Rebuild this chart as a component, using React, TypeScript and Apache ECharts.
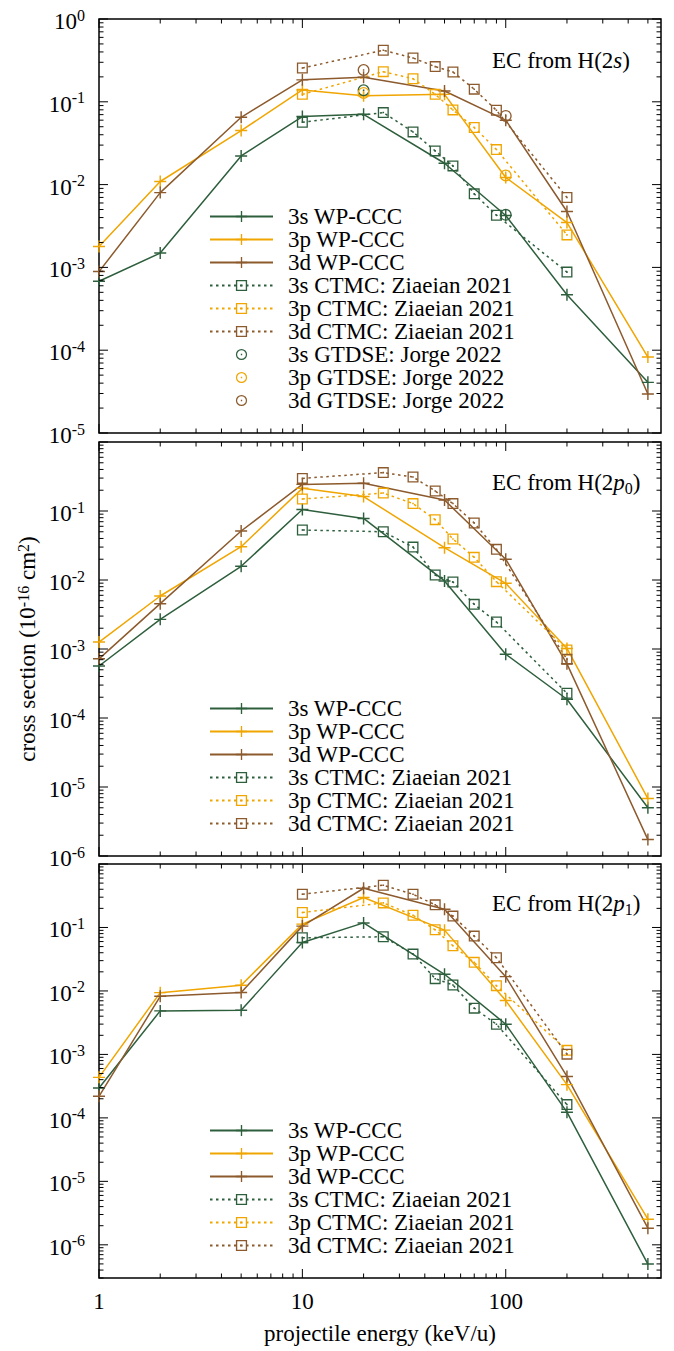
import React, { useEffect, useRef } from 'react';
import * as echarts from 'echarts';

const FONT = '"Liberation Serif", "Times New Roman", serif';
const GREEN = '#2e5f3d';
const ORANGE = '#f0a500';
const BROWN = '#8c5a2d';

// energies (keV/u)
const E_WP = [1, 2, 5, 10, 20, 50, 100, 200, 500];
const E_CTMC = [10, 25, 35, 45, 55, 70, 90, 200];
const E_GTDSE = [20, 100];

// Panel 1: EC from H(2s)
const P1_WP_3s = [6.8e-4, 1.49e-3, 0.0222, 0.0663, 0.0707, 0.0181, 4.23e-3, 4.67e-4, 4.09e-5];
const P1_WP_3p = [1.79e-3, 0.0109, 0.0449, 0.139, 0.118, 0.123, 0.0122, 3.48e-3, 8.26e-5];
const P1_WP_3d = [8.9e-4, 8.0e-3, 0.065, 0.184, 0.198, 0.135, 0.06, 4.73e-3, 2.96e-5];
const P1_CT_3s = [0.0566, 0.0741, 0.0433, 0.0255, 0.0168, 7.73e-3, 4.27e-3, 8.77e-4];
const P1_CT_3p = [0.123, 0.231, 0.19, 0.123, 0.0798, 0.0489, 0.0265, 2.47e-3];
const P1_CT_3d = [0.256, 0.419, 0.338, 0.266, 0.229, 0.142, 0.079, 6.98e-3];
const P1_GT_3s = [0.138, 4.31e-3];
const P1_GT_3p = [0.128, 0.0129];
const P1_GT_3d = [0.242, 0.0675];

// Panel 2: EC from H(2p0)
const P2_WP_3s = [5.67e-4, 2.69e-3, 0.0158, 0.105, 0.078, 9.7e-3, 8.4e-4, 1.87e-4, 5.0e-6];
const P2_WP_3p = [1.26e-3, 5.86e-3, 0.0304, 0.213, 0.162, 0.0294, 8.95e-3, 1.02e-3, 6.8e-6];
const P2_WP_3d = [7.2e-4, 4.54e-3, 0.0513, 0.243, 0.252, 0.144, 0.02, 6.1e-4, 1.73e-6];
const P2_CT_3s = [0.053, 0.05, 0.03, 0.0118, 9.35e-3, 4.44e-3, 2.46e-3, 2.28e-4];
const P2_CT_3p = [0.149, 0.182, 0.128, 0.0749, 0.0393, 0.0213, 9.46e-3, 9.7e-4];
const P2_CT_3d = [0.297, 0.36, 0.311, 0.195, 0.128, 0.067, 0.0278, 7.08e-4];

// Panel 3: EC from H(2p1)
const P3_WP_3s = [2.96e-4, 4.85e-3, 4.97e-3, 0.058, 0.118, 0.0183, 2.99e-3, 1.23e-4, 4.97e-7];
const P3_WP_3p = [4.35e-4, 9.4e-3, 0.0123, 0.113, 0.296, 0.0908, 7.05e-3, 3.34e-4, 2.53e-6];
const P3_WP_3d = [2.19e-4, 8.24e-3, 9.42e-3, 0.105, 0.415, 0.194, 0.0168, 4.5e-4, 1.83e-6];
const P3_CT_3s = [0.0689, 0.0713, 0.0381, 0.0156, 0.0124, 5.35e-3, 2.99e-3, 1.62e-4];
const P3_CT_3p = [0.172, 0.244, 0.156, 0.0919, 0.0515, 0.0282, 0.0121, 1.16e-3];
const P3_CT_3d = [0.334, 0.463, 0.334, 0.227, 0.151, 0.0731, 0.0334, 1.01e-3];

// axis ranges
const X_MIN = 1;
const X_MAX = 580;
const Y_MIN = [1e-5, 1e-6, 3e-7];
const Y_MAX = [1, 1, 1];

const NAMES_WP = ['3s WP-CCC', '3p WP-CCC', '3d WP-CCC'];
const NAMES_CT = ['3s CTMC: Ziaeian 2021', '3p CTMC: Ziaeian 2021', '3d CTMC: Ziaeian 2021'];
const NAMES_GT = ['3s GTDSE: Jorge 2022', '3p GTDSE: Jorge 2022', '3d GTDSE: Jorge 2022'];
const TITLES = ['EC from H(2{i|s})', 'EC from H(2{i|p}{sub|0})', 'EC from H(2{i|p}{sub|1})'];

// layout
const GRID_TOP = [19, 442, 864];
const GRID_H = 414;
const GRID_LEFT = 99;
const GRID_W = 562;
const LEGEND_TOP = [205, 697, 1119];
const TITLE_Y = [62, 484, 905];

const FS = 23;
const FS_SUP = 16;

const SYM_PLUS = 'path://M0,4.4H10V5.6H0Z M4.4,0H5.6V10H4.4Z';
const SYM_BOX = 'path://M0,0H10V10H0Z M1.2,1.2V8.8H8.8V1.2Z M4.3,4.3H5.7V5.7H4.3Z';
const SYM_CIRC = 'path://M0,5A5,5,0,1,1,10,5A5,5,0,1,1,0,5Z M1.1,5A3.9,3.9,0,1,0,8.9,5A3.9,3.9,0,1,0,1.1,5Z M4.4,4.4H5.6V5.6H4.4Z';

const COLORS = [GREEN, ORANGE, BROWN];

function pairs(xs: number[], ys: number[]) {
  return xs.map((x, i) => [x, ys[i]]);
}

function makeSeries(p: number, name: string, xs: number[], ys: number[], color: string, kind: 'wp' | 'ct' | 'gt') {
  const base: any = {
    type: 'line',
    name,
    xAxisIndex: p,
    yAxisIndex: p,
    data: pairs(xs, ys),
    showSymbol: true,
    showAllSymbol: true,
    symbolKeepAspect: true,
    itemStyle: { color, borderWidth: 0 },
    emphasis: { disabled: true },
    z: 3,
  };
  if (kind === 'wp') {
    base.symbol = SYM_PLUS;
    base.symbolSize = 12;
    base.lineStyle = { color, width: 1.5, type: 'solid' };
  } else if (kind === 'ct') {
    base.symbol = SYM_BOX;
    base.symbolSize = 11;
    base.lineStyle = { color, width: 1.5, type: [2.5, 3.5] };
  } else {
    base.symbol = SYM_CIRC;
    base.symbolSize = 12;
    base.lineStyle = { color, width: 0, opacity: 0 };
    base.z = 4;
  }
  return base;
}

function tickData(p: number) {
  const d: number[][] = [];
  for (let k = 0; k <= 3; k++) {
    for (let m = 1; m <= 9; m++) {
      const v = m * Math.pow(10, k);
      if (v >= X_MIN && v <= X_MAX) d.push([v, 1, 0, m === 1 ? 1 : 0]);
    }
  }
  const lo = Math.floor(Math.log10(Y_MIN[p]));
  for (let k = lo; k <= 0; k++) {
    for (let m = 1; m <= 9; m++) {
      const v = m * Math.pow(10, k);
      if (v >= Y_MIN[p] * 0.9999 && v <= Y_MAX[p] * 1.0001) d.push([1, v, 1, m === 1 ? 1 : 0]);
    }
  }
  return d;
}

function isPow10(v: number) {
  const e = Math.log10(v);
  return Math.abs(e - Math.round(e)) < 1e-6;
}

export default function App() {
  const ref = useRef<HTMLDivElement>(null);
  useEffect(() => {
    if (!ref.current) return;
    const chart = echarts.init(ref.current, undefined, { renderer: 'svg' });

    const series: any[] = [];
    const panels = [
      { wp: [P1_WP_3s, P1_WP_3p, P1_WP_3d], ct: [P1_CT_3s, P1_CT_3p, P1_CT_3d], gt: [P1_GT_3s, P1_GT_3p, P1_GT_3d] },
      { wp: [P2_WP_3s, P2_WP_3p, P2_WP_3d], ct: [P2_CT_3s, P2_CT_3p, P2_CT_3d], gt: null },
      { wp: [P3_WP_3s, P3_WP_3p, P3_WP_3d], ct: [P3_CT_3s, P3_CT_3p, P3_CT_3d], gt: null },
    ];
    panels.forEach((pd, p) => {
      series.push({
        type: 'custom',
        name: 'ticks' + p,
        xAxisIndex: p,
        yAxisIndex: p,
        silent: true,
        z: 5,
        data: tickData(p),
        renderItem: (params: any, api: any) => {
          const cs = params.coordSys;
          const kind = api.value(2);
          const major = api.value(3);
          const len = major ? 9 : 4.5;
          const style = { stroke: '#000', lineWidth: 1 };
          if (kind === 0) {
            const x = api.coord([api.value(0), api.value(1)])[0];
            return {
              type: 'group',
              children: [
                { type: 'line', shape: { x1: x, y1: cs.y + cs.height, x2: x, y2: cs.y + cs.height - len }, style },
                { type: 'line', shape: { x1: x, y1: cs.y, x2: x, y2: cs.y + len }, style },
              ],
            };
          }
          const y = api.coord([api.value(0), api.value(1)])[1];
          return {
            type: 'group',
            children: [
              { type: 'line', shape: { x1: cs.x, y1: y, x2: cs.x + len, y2: y }, style },
              { type: 'line', shape: { x1: cs.x + cs.width, y1: y, x2: cs.x + cs.width - len, y2: y }, style },
            ],
          };
        },
      });
      pd.wp.forEach((ys, i) => series.push(makeSeries(p, NAMES_WP[i], E_WP, ys, COLORS[i], 'wp')));
      pd.ct.forEach((ys, i) => series.push(makeSeries(p, NAMES_CT[i], E_CTMC, ys, COLORS[i], 'ct')));
      if (pd.gt) pd.gt.forEach((ys, i) => series.push(makeSeries(p, NAMES_GT[i], E_GTDSE, ys, COLORS[i], 'gt')));
    });

    const grids = [0, 1, 2].map((p) => ({
      left: GRID_LEFT,
      top: GRID_TOP[p],
      width: GRID_W,
      height: GRID_H,
      show: true,
      borderColor: '#000',
      borderWidth: 1.5,
      backgroundColor: 'transparent',
    }));

    const xAxes = [0, 1, 2].map((p) => ({
      type: 'log',
      logBase: 10,
      gridIndex: p,
      min: X_MIN,
      max: X_MAX,
      axisLine: { show: false },
      axisTick: { show: false },
      splitLine: { show: false },
      minorTick: { show: false },
      axisLabel: {
        show: p === 2,
        margin: 12,
        fontFamily: FONT,
        fontSize: FS,
        color: '#000',
        showMaxLabel: false,
        formatter: (v: number) => (isPow10(v) ? String(Math.round(v)) : ''),
      },
      name: p === 2 ? 'projectile energy (keV/u)' : '',
      nameLocation: 'middle',
      nameGap: 44,
      nameTextStyle: { fontFamily: FONT, fontSize: FS, color: '#000' },
    }));

    const yAxes = [0, 1, 2].map((p) => ({
      type: 'log',
      logBase: 10,
      gridIndex: p,
      min: Y_MIN[p],
      max: Y_MAX[p],
      axisLine: { show: false },
      axisTick: { show: false },
      splitLine: { show: false },
      minorTick: { show: false },
      axisLabel: {
        margin: 14,
        color: '#000',
        padding: [5, 0, 0, 0],
        formatter: (v: number) => {
          if (!isPow10(v)) return '';
          const e = Math.round(Math.log10(v));
          if (p > 0 && e === 0) return '';
          return `{b|10}{s|${e}}`;
        },
        rich: {
          b: { fontFamily: FONT, fontSize: FS, lineHeight: 29, color: '#000' },
          s: { fontFamily: FONT, fontSize: FS_SUP, lineHeight: 16, verticalAlign: 'top', color: '#000' },
        },
      },
    }));

    const legends = [0, 1, 2].map((p) => ({
      data: p === 0 ? [...NAMES_WP, ...NAMES_CT, ...NAMES_GT] : [...NAMES_WP, ...NAMES_CT],
      orient: 'vertical',
      left: 209,
      top: LEGEND_TOP[p],
      itemWidth: 63,
      itemHeight: 14,
      itemGap: 0,
      padding: 0,
      selectedMode: false,
      textStyle: { fontFamily: FONT, fontSize: FS, color: '#000', lineHeight: 23, padding: [0, 0, 0, 10] },
    }));

    const graphics: any[] = TITLES.map((t, p) => ({
      type: 'text',
      left: 492,
      top: TITLE_Y[p] - 13,
      silent: true,
      style: {
        text: t,
        fill: '#000',
        font: `${FS}px ${FONT}`,
        rich: {
          i: { fontFamily: FONT, fontSize: FS, fontStyle: 'italic', lineHeight: 28, fill: '#000' },
          sub: { fontFamily: FONT, fontSize: FS_SUP, lineHeight: 16, verticalAlign: 'bottom', fill: '#000' },
        },
      },
    }));
    graphics.push({
      type: 'text',
      x: 27,
      y: 649,
      rotation: Math.PI / 2,
      silent: true,
      style: {
        text: 'cross section (10{s|-16} cm{s|2})',
        fill: '#000',
        font: `${FS}px ${FONT}`,
        align: 'center',
        verticalAlign: 'middle',
        rich: {
          s: { fontFamily: FONT, fontSize: FS_SUP, lineHeight: 16, verticalAlign: 'top', fill: '#000' },
        },
      },
    });

    chart.setOption({
      animation: false,
      backgroundColor: '#fff',
      grid: grids,
      xAxis: xAxes,
      yAxis: yAxes,
      legend: legends,
      graphic: graphics,
      series,
    });
    return () => chart.dispose();
  }, []);
  return <div ref={ref} style={{ position: 'absolute', left: 0, top: 0, width: 674, height: 1351 }} />;
}
